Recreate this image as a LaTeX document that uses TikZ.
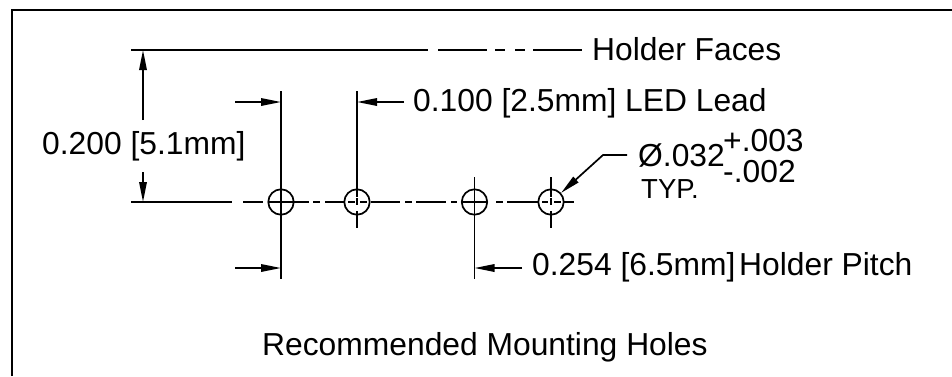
\documentclass[tikz,border=0pt]{standalone}
\usepackage{fontspec}
\setmainfont{Liberation Sans}
\usetikzlibrary{arrows.meta}

\tikzset{
    dimtext/.style={anchor=base west, inner sep=0pt, font=\fontsize{31.8}{36}\selectfont},
    smalltext/.style={anchor=base west, inner sep=0pt, font=\fontsize{27.5}{30}\selectfont},
    hole/.style={draw, circle, line width=1.7pt, minimum size=25.4pt, inner sep=0pt},
    dimline/.style={line width=1.7pt, -{Triangle[length=20pt,width=7.5pt]}},
    extline/.style={line width=1.7pt},
}

\begin{document}
\begin{tikzpicture}[x=1pt, y=-1pt]
                \useasboundingbox (0, 0) rectangle (952, 376);

                \coordinate (framebl) at (12, 376);
                \coordinate (frametl) at (12, 10);
                \coordinate (frametr) at (952, 10);
                \draw[line width=2.2pt] (framebl) -- (frametl) -- (frametr);

                \node[hole] (hole1) at (281, 202) {};
                \node[hole] (hole2) at (357, 202) {};
                \node[hole] (hole3) at (474.5, 202) {};
                \node[hole] (hole4) at (551, 202) {};

                \node[dimtext] (faces) at (592, 60) {Holder Faces};
                \node[dimtext] (lead) at (413, 111) {0.100 [2.5mm]};
                \node[dimtext] (leadname) at (625, 111) {LED Lead};
                \node[dimtext] (height) at (42, 154) {0.200 [5.1mm]};
                \node[dimtext] (diam) at (638, 166) {Ø.032};
                \node[dimtext] (tolplus) at (723, 151) {+.003};
                \node[dimtext] (tolminus) at (723, 182) {-.002};
                \node[smalltext] (typ) at (641, 198) {TYP.};
                \node[dimtext] (pitch) at (532, 275) {0.254 [6.5mm]};
                \node[dimtext] (pitchname) at (739, 275) {Holder Pitch};
                \node[dimtext] (title) at (262, 355) {Recommended Mounting Holes};

                % holder face line and center line
                \coordinate (faceleft) at (131, 50);
                \coordinate (faceright) at (582, 50);
                \coordinate (centerleft) at (131, 202);
                \coordinate (centerright) at (574, 202);
                \draw[extline, dash pattern=on 297pt off 10pt on 49pt off 8pt on 10pt off 10pt on 10pt off 8pt on 49pt] (faceleft) -- (faceright);
                \draw[extline, dash pattern=on 101pt off 11pt on 20pt off 5pt on 41pt off 4pt on 7pt off 5pt on 20pt off 3pt on 7pt off 1pt on 2pt off 2pt on 7pt off 4pt on 29pt off 5pt on 7pt off 4pt on 30pt off 5pt on 6pt off 5pt on 25pt off 9pt on 7pt off 4pt on 31pt off 4pt on 6pt off 2pt on 2pt off 2pt on 7pt off 3pt on 10pt] (centerleft) -- (centerright);

                % lines through the holes
                \coordinate (ext1top) at (281, 91);
                \coordinate (ext1bot) at (281, 279);
                \coordinate (ext2top) at (357, 91);
                \coordinate (ext2bot) at (357, 228);
                \coordinate (ext3top) at (474.5, 177);
                \coordinate (ext3bot) at (474.5, 279);
                \coordinate (ext4top) at (551, 177);
                \coordinate (ext4bot) at (551, 228);
                \draw[extline] (ext1top) -- (ext1bot);
                \draw[extline, dash pattern=on 106pt off 1pt on 7pt off 6pt on 17pt] (ext2top) -- (ext2bot);
                \draw[extline] (ext3top) -- (ext3bot);
                \draw[extline, dash pattern=on 20pt off 1pt on 7pt off 6pt on 17pt] (ext4top) -- (ext4bot);

                % dimension arrows
                \coordinate (upstart) at (143, 120);
                \coordinate (uptip) at (143, 50);
                \coordinate (downstart) at (143, 172);
                \coordinate (downtip) at (143, 202);
                \draw[dimline] (upstart) -- (uptip);
                \draw[dimline] (downstart) -- (downtip);

                \coordinate (a1start) at (235, 102);
                \coordinate (a1tip) at (281, 102);
                \coordinate (a2start) at (404, 102);
                \coordinate (a2tip) at (357, 102);
                \coordinate (a3start) at (235, 268);
                \coordinate (a3tip) at (281, 268);
                \coordinate (a4start) at (522, 268);
                \coordinate (a4tip) at (474.5, 268);
                \draw[dimline] (a1start) -- (a1tip);
                \draw[dimline] (a2start) -- (a2tip);
                \draw[dimline] (a3start) -- (a3tip);
                \draw[dimline] (a4start) -- (a4tip);

                \coordinate (leaderstart) at (627, 155);
                \coordinate (leaderbend) at (603, 155);
                \draw[dimline] (leaderstart) -- (leaderbend) -- (hole4.42);
            \end{tikzpicture}
\end{document}
